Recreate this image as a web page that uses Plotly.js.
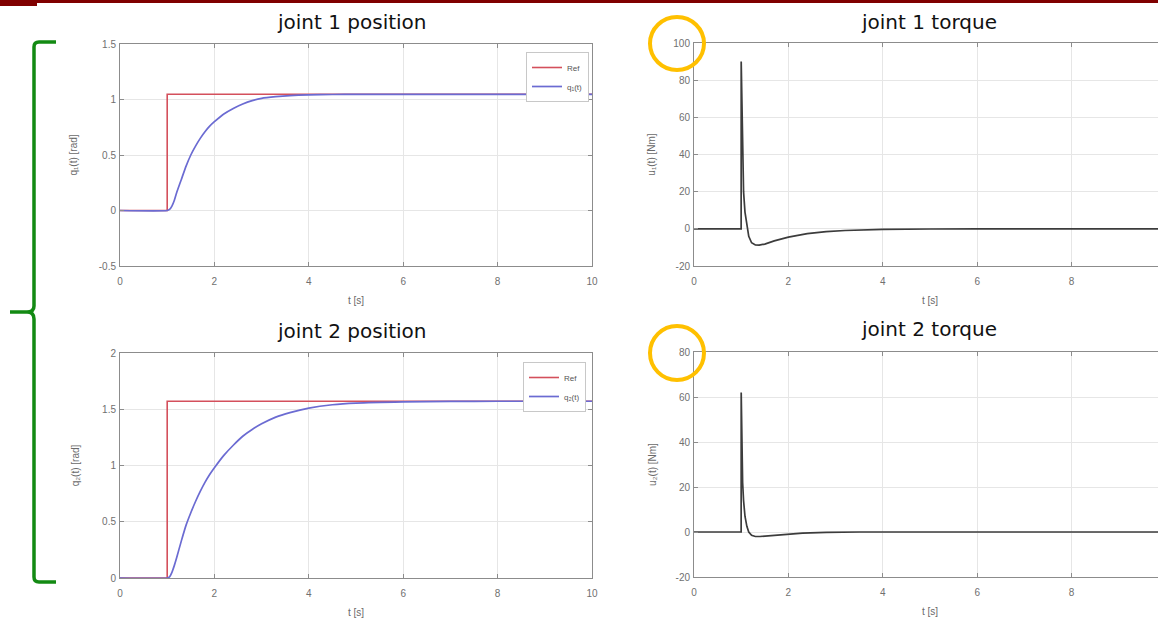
<!DOCTYPE html>
<html>
<head>
<meta charset="utf-8">
<script src="https://cdn.plot.ly/plotly-3.0.1.min.js"></script>
<style>
  html, body { margin: 0; padding: 0; background: #ffffff; overflow: hidden; }
  #chart { width: 1172px; height: 618px; }
</style>
</head>
<body>
<div id="chart"></div>
<script>
// Joint step response of a two-link arm: positions and applied torques.

// time samples for the position responses [s]
const tPos = [0, 1, 1.05, 1.1, 1.15, 1.2, 1.3, 1.4, 1.5, 1.6, 1.7, 1.8, 1.9, 2.0, 2.2, 2.4, 2.6, 2.8, 3.0, 3.3, 3.6, 4.0, 4.5, 5.0, 6.0, 7.0, 8.0, 9.0, 10.0];
// joint 1 position [rad]
const q1 = [0, 0, 0.01, 0.04, 0.09, 0.16, 0.28, 0.40, 0.50, 0.58, 0.65, 0.71, 0.76, 0.80, 0.87, 0.92, 0.96, 0.99, 1.01, 1.025, 1.035, 1.042, 1.045, 1.046, 1.047, 1.047, 1.047, 1.047, 1.047];
// joint 2 position [rad]
const q2 = [0, 0, 0.01, 0.05, 0.11, 0.18, 0.33, 0.47, 0.58, 0.68, 0.77, 0.85, 0.92, 0.98, 1.09, 1.18, 1.26, 1.32, 1.37, 1.43, 1.47, 1.51, 1.54, 1.555, 1.566, 1.570, 1.571, 1.571, 1.571];

// reference steps
const tRef = [0, 1, 1, 10];
const ref1 = [0, 0, 1.047, 1.047];
const ref2 = [0, 0, 1.571, 1.571];

// joint 1 torque [Nm]
const tU1 = [0, 0.999, 1.0, 1.008, 1.015, 1.03, 1.05, 1.08, 1.12, 1.16, 1.22, 1.3, 1.38, 1.5, 1.7, 2.0, 2.4, 2.8, 3.2, 3.6, 4.0, 5.0, 6.0, 10.0];
const u1 = [0, 0, 90, 78, 55, 33, 20, 9, 1, -4, -7.5, -8.7, -8.8, -8.2, -6.5, -4.5, -2.6, -1.5, -0.9, -0.5, -0.3, -0.1, 0, 0];

// joint 2 torque [Nm]
const tU2 = [0, 0.999, 1.0, 1.008, 1.015, 1.03, 1.05, 1.08, 1.12, 1.16, 1.22, 1.3, 1.4, 1.6, 1.9, 2.3, 2.8, 3.5, 10.0];
const u2 = [0, 0, 62, 43, 30, 22, 14, 7, 2.5, 0, -1.5, -2.0, -2.0, -1.6, -1.0, -0.5, -0.2, 0, 0];

// tick values (the torque panels run past the right edge, so their last label is not shown)
const tTicksLeft = [0, 2, 4, 6, 8, 10];
const tTicksRight = [0, 2, 4, 6, 8];
const q1Ticks = [-0.5, 0, 0.5, 1, 1.5];
const q2Ticks = [0, 0.5, 1, 1.5, 2];
const u1Ticks = [-20, 0, 20, 40, 60, 80, 100];
const u2Ticks = [-20, 0, 20, 40, 60, 80];

const W = 1172, H = 618;
const px = x => x / W;
const py = y => 1 - y / H;

const refColor = '#d4505c';
const qColor = '#6b6bd2';
const uColor = '#3c3c3c';

const traces = [
  { x: tRef, y: ref1, xaxis: 'x', yaxis: 'y', mode: 'lines', name: 'Ref',
    line: { color: refColor, width: 1.6 }, legend: 'legend' },
  { x: tPos, y: q1, xaxis: 'x', yaxis: 'y', mode: 'lines', name: 'q₁(t)',
    line: { color: qColor, width: 1.7, shape: 'spline', smoothing: 0.6 }, legend: 'legend' },
  { x: tU1, y: u1, xaxis: 'x2', yaxis: 'y2', mode: 'lines', showlegend: false,
    line: { color: uColor, width: 1.7 } },
  { x: tRef, y: ref2, xaxis: 'x3', yaxis: 'y3', mode: 'lines', name: 'Ref',
    line: { color: refColor, width: 1.6 }, legend: 'legend2' },
  { x: tPos, y: q2, xaxis: 'x3', yaxis: 'y3', mode: 'lines', name: 'q₂(t)',
    line: { color: qColor, width: 1.7, shape: 'spline', smoothing: 0.6 }, legend: 'legend2' },
  { x: tU2, y: u2, xaxis: 'x4', yaxis: 'y4', mode: 'lines', showlegend: false,
    line: { color: uColor, width: 1.7 } }
];

const sansFamily = 'Liberation Sans, DejaVu Sans, Arial, sans-serif';
const tickFont = { family: sansFamily, size: 10, color: '#707070' };
const labFont = { family: sansFamily, size: 10, color: '#6a6a6a' };
const axisBase = {
  showline: true, mirror: 'ticks', linecolor: '#8c8c8c', linewidth: 1,
  ticks: 'inside', ticklen: 4, tickcolor: '#8c8c8c',
  showgrid: true, gridcolor: '#e6e6e6', gridwidth: 1, zeroline: false,
  tickfont: tickFont, fixedrange: true, automargin: false
};

function xAxis(d0, d1, anchor, ticks) {
  return Object.assign({}, axisBase, {
    domain: [px(d0), px(d1)], range: [0, 10], anchor: anchor,
    tickmode: 'array', tickvals: ticks, ticktext: ticks.map(String),
    ticklabelstandoff: 6,
    title: { text: 't [s]', font: labFont, standoff: 10 }
  });
}
function yAxis(top, bottom, range, ticks, anchor, label, standoff) {
  return Object.assign({}, axisBase, {
    domain: [py(bottom), py(top)], range: range, anchor: anchor,
    tickmode: 'array', tickvals: ticks, ticktext: ticks.map(String),
    ticklabelstandoff: 1,
    title: { text: label, font: labFont, standoff: standoff }
  });
}

const titleFont = { family: 'DejaVu Sans, sans-serif', size: 20, color: '#111111' };

function ann(text, x, y) {
  return { text: text, x: px(x), y: py(y), xref: 'paper', yref: 'paper',
           xanchor: 'center', yanchor: 'middle', showarrow: false, font: titleFont };
}

const annotations = [
  ann('joint 1 position', 352, 22),
  ann('joint 1 torque', 929, 22),
  ann('joint 2 position', 352, 331),
  ann('joint 2 torque', 929, 329)
];

// brace grouping the two position plots
function bracePath() {
  const P = (x, y) => px(x).toFixed(5) + ',' + py(y).toFixed(5);
  return 'M' + P(56, 42) + ' L' + P(39, 42) + ' Q' + P(34, 42) + ' ' + P(34, 47) +
         ' L' + P(34, 306) + ' Q' + P(34, 312) + ' ' + P(27, 312) + ' L' + P(10, 312) +
         ' M' + P(27, 312) + ' Q' + P(34, 312) + ' ' + P(34, 319) +
         ' L' + P(34, 577) + ' Q' + P(34, 582) + ' ' + P(39, 582) + ' L' + P(56, 582);
}

const shapes = [
  { type: 'rect', xref: 'paper', yref: 'paper', x0: 0, x1: 1, y0: py(3), y1: 1,
    fillcolor: '#800000', line: { width: 0 } },
  { type: 'rect', xref: 'paper', yref: 'paper', x0: 0, x1: px(37), y0: py(6), y1: 1,
    fillcolor: '#800000', line: { width: 0 } },
  { type: 'path', xref: 'paper', yref: 'paper', path: bracePath(),
    line: { color: '#138a13', width: 3.5 } },
  { type: 'circle', xref: 'paper', yref: 'paper',
    x0: px(650), x1: px(704), y0: py(70), y1: py(17),
    line: { color: '#ffc000', width: 4 } },
  { type: 'circle', xref: 'paper', yref: 'paper',
    x0: px(650), x1: px(704), y0: py(380), y1: py(326),
    line: { color: '#ffc000', width: 4 } }
];

const legendBase = {
  xanchor: 'right', yanchor: 'top', bgcolor: '#ffffff',
  bordercolor: '#c8c8c8', borderwidth: 1, itemwidth: 30, tracegroupgap: 0,
  font: { family: sansFamily, size: 8, color: '#555555' }
};

const layout = {
  width: W, height: H,
  margin: { l: 0, r: 0, t: 0, b: 0 },
  paper_bgcolor: '#ffffff', plot_bgcolor: '#ffffff',
  xaxis: xAxis(120, 592, 'y', tTicksLeft),
  yaxis: yAxis(44, 266, [-0.5, 1.5], q1Ticks, 'x', 'q₁(t) [rad]', 19),
  xaxis2: xAxis(694, 1166, 'y2', tTicksRight),
  yaxis2: yAxis(43, 266, [-20, 100], u1Ticks, 'x2', 'u₁(t) [Nm]', 15),
  xaxis3: xAxis(120, 592, 'y3', tTicksLeft),
  yaxis3: yAxis(353, 578, [0, 2], q2Ticks, 'x3', 'q₂(t) [rad]', 20),
  xaxis4: xAxis(694, 1166, 'y4', tTicksRight),
  yaxis4: yAxis(352, 577, [-20, 80], u2Ticks, 'x4', 'u₂(t) [Nm]', 17),
  showlegend: true,
  legend: Object.assign({}, legendBase, { x: px(589), y: py(52) }),
  legend2: Object.assign({}, legendBase, { x: px(586), y: py(362) }),
  annotations: annotations,
  shapes: shapes
};

Plotly.newPlot('chart', traces, layout, { displayModeBar: false });
</script>
</body>
</html>
